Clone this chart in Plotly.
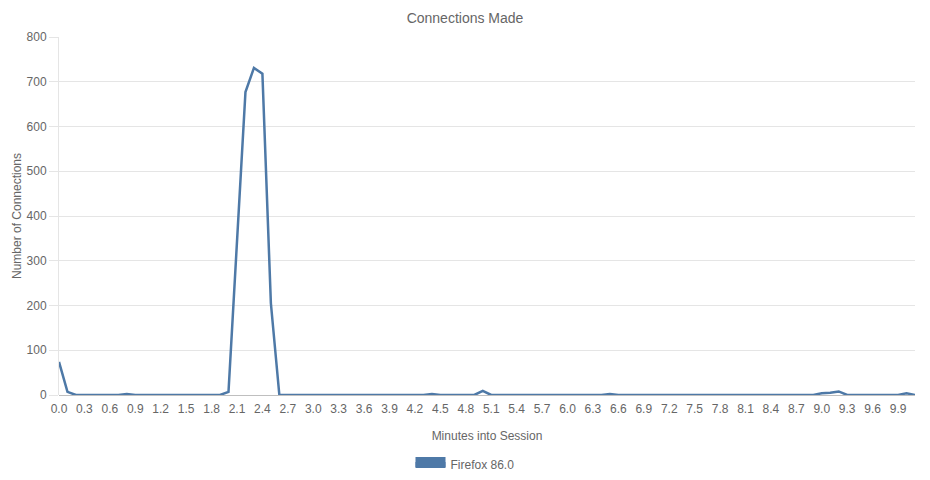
import plotly.graph_objects as go

minutes = [
    "0.0", "0.1", "0.2", "0.3", "0.4", "0.5", "0.6", "0.7", "0.8", "0.9",
    "1.0", "1.1", "1.2", "1.3", "1.4", "1.5", "1.6", "1.7", "1.8", "1.9",
    "2.0", "2.1", "2.2", "2.3", "2.4", "2.5", "2.6", "2.7", "2.8", "2.9",
    "3.0", "3.1", "3.2", "3.3", "3.4", "3.5", "3.6", "3.7", "3.8", "3.9",
    "4.0", "4.1", "4.2", "4.3", "4.4", "4.5", "4.6", "4.7", "4.8", "4.9",
    "5.0", "5.1", "5.2", "5.3", "5.4", "5.5", "5.6", "5.7", "5.8", "5.9",
    "6.0", "6.1", "6.2", "6.3", "6.4", "6.5", "6.6", "6.7", "6.8", "6.9",
    "7.0", "7.1", "7.2", "7.3", "7.4", "7.5", "7.6", "7.7", "7.8", "7.9",
    "8.0", "8.1", "8.2", "8.3", "8.4", "8.5", "8.6", "8.7", "8.8", "8.9",
    "9.0", "9.1", "9.2", "9.3", "9.4", "9.5", "9.6", "9.7", "9.8", "9.9",
    "10.0", "10.1",
]

connections = [
    74, 7, 0, 0, 0, 0, 0, 0, 2, 0,
    0, 0, 0, 0, 0, 0, 0, 0, 0, 0,
    7, 342, 677, 731, 718, 205, 0, 0, 0, 0,
    0, 0, 0, 0, 0, 0, 0, 0, 0, 0,
    0, 0, 0, 0, 2, 0, 0, 0, 0, 0,
    9, 0, 0, 0, 0, 0, 0, 0, 0, 0,
    0, 0, 0, 0, 0, 2, 0, 0, 0, 0,
    0, 0, 0, 0, 0, 0, 0, 0, 0, 0,
    0, 0, 0, 0, 0, 1, 0, 0, 0, 0,
    4, 5, 8, 0, 0, 0, 0, 0, 0, 0,
    4, 0,
]

series_name = "Firefox 86.0"
tick_labels = minutes[::3]

color = "rgb(78,121,167)"
font_family = "Liberation Sans, Arial, sans-serif"

# page body has an 8px margin; the figure is sized to fit the window
W, H = 922, 472

fig = go.Figure()
fig.add_trace(go.Scatter(
    x=minutes, y=connections, mode="lines",
    line=dict(color=color, width=2.5),
    showlegend=False, hoverinfo="skip",
))
# legend entry drawn as a filled box (Chart.js style)
fig.add_trace(go.Scatter(
    x=[None], y=[None], mode="lines", fill="toself", fillcolor=color,
    line=dict(color=color, width=10),
    name=series_name, showlegend=True,
))

fig.update_layout(
    width=W, height=H,
    margin=dict(l=51, r=15, t=29, b=85),
    paper_bgcolor="white", plot_bgcolor="white",
    font=dict(family=font_family, size=12, color="#666666"),
    title=dict(text="Connections Made", x=457 / W, xref="container", xanchor="center",
               y=1 - 10 / H, yref="container", yanchor="middle",
               font=dict(size=14, color="#666666")),
    legend=dict(orientation="h", x=457 / W, xref="container", xanchor="center",
                y=(H - 456) / H, yref="container", yanchor="middle",
                font=dict(size=12, color="#666666"), itemwidth=30),
    xaxis=dict(
        type="category", range=[0, len(minutes) - 1],
        tickmode="array", tickvals=tick_labels, ticktext=tick_labels,
        showgrid=False, showline=False, zeroline=False,
        ticks="outside", ticklen=3, tickcolor="rgba(0,0,0,0)",
        tickangle=0,
        title=dict(text="Minutes into Session", standoff=16,
                   font=dict(size=12, color="#666666")),
        automargin=False,
    ),
    yaxis=dict(
        range=[0, 800], dtick=100, tick0=0,
        showgrid=True, gridcolor="rgba(0,0,0,0.1)", gridwidth=1,
        zeroline=True, zerolinecolor="rgba(0,0,0,0.25)", zerolinewidth=1,
        showline=True, linecolor="rgba(0,0,0,0.1)", linewidth=1,
        ticks="outside", ticklen=9, tickcolor="rgba(0,0,0,0.1)",
        title=dict(text="Number of Connections", standoff=2,
                   font=dict(size=12, color="#666666")),
        automargin=False,
    ),
)

fig.write_html("out.html", config={"displayModeBar": False})
